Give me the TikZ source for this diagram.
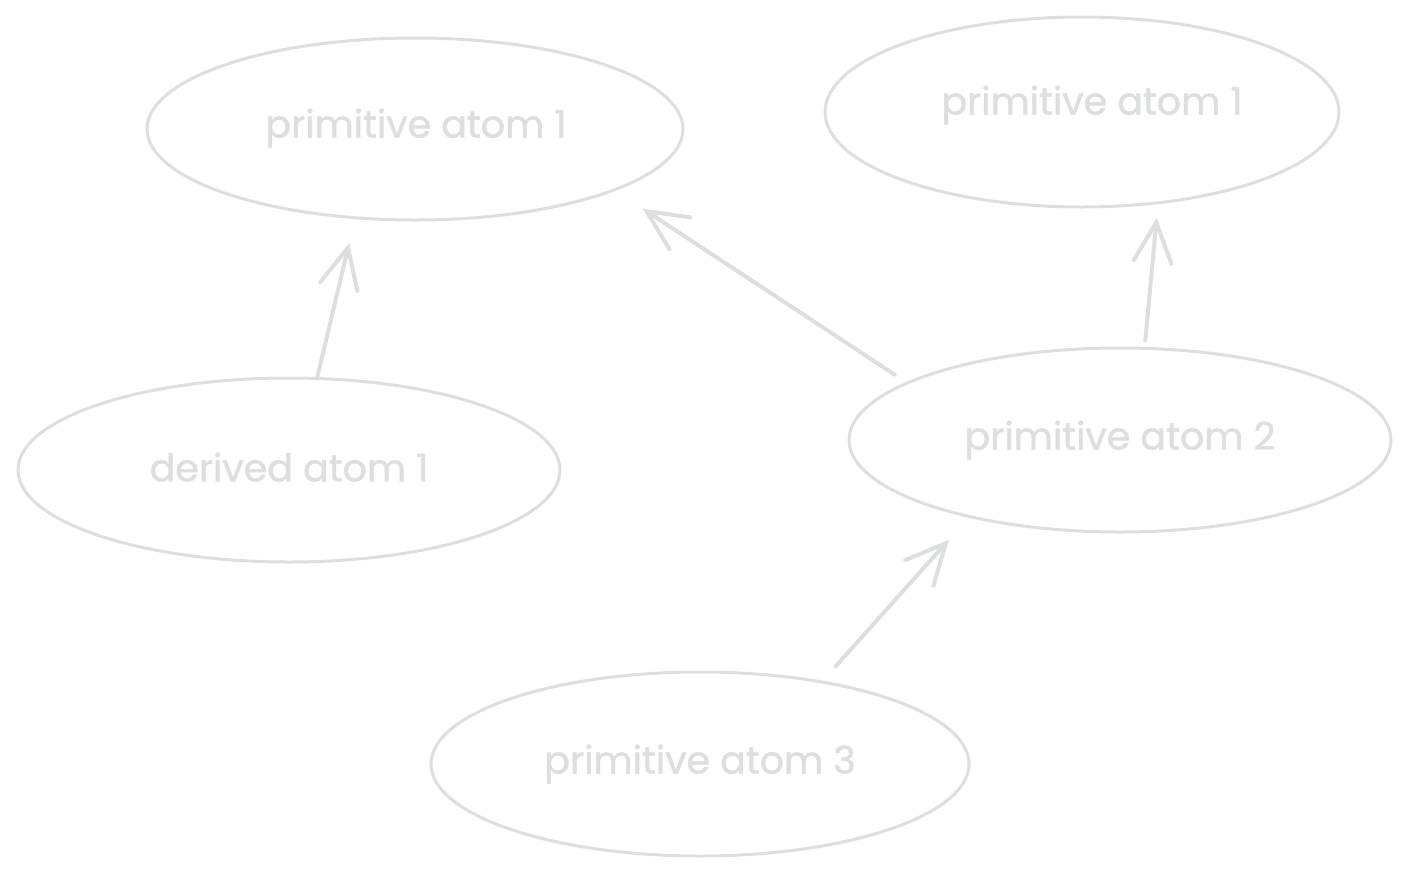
\documentclass[tikz,border=0pt]{standalone}
\usepackage{fontspec}
\setmainfont{Poppins}
\newfontfamily\skfont{Poppins}[FakeBold=1.3]
\usetikzlibrary{shapes.geometric,arrows.meta}
\definecolor{sk}{RGB}{220,223,222}
\tikzset{
  atom/.style={ellipse, draw=sk, line width=3pt, inner sep=0pt, outer sep=0pt},
  label/.style={text=sk, font=\skfont\fontsize{38}{44}\selectfont},
  link/.style={draw=sk, line width=4pt, line cap=round,
    -{Straight Barb[length=40pt,width=38pt,line cap=round]}}
}
\begin{document}
\begin{tikzpicture}[x=1pt,y=-1pt]
\useasboundingbox (0,0) rectangle (1409,876);
\node[atom, minimum width=536pt, minimum height=182pt] (p1) at (415,129) {};
\node[label] (t1) at (416,128) {primitive atom 1};
\node[atom, minimum width=514pt, minimum height=190pt] (q1) at (1082,112) {};
\node[label] (t2) at (1092,105) {primitive atom 1};
\node[atom, minimum width=542pt, minimum height=184pt] (d1) at (289,470) {};
\node[label] (t3) at (289,467) {derived atom 1};
\node[atom, minimum width=542pt, minimum height=184pt] (p2) at (1120,440) {};
\node[label] (t4) at (1120,440) {primitive atom 2};
\node[atom, minimum width=538pt, minimum height=184pt] (p3) at (700,764) {};
\node[label] (t5) at (700,764) {primitive atom 3};
\draw[link, shorten >=26pt] (d1.73) -- (p1.236);
\draw[link, shorten <=15pt, shorten >=34pt] (p2.165.5) -- (p1.343.5);
\draw[link, shorten <=8pt, shorten >=15pt] (p2.75.8) -- (q1.310.1);
\draw[link, shorten <=21pt, shorten >=31pt] (p3.34) -- (p2.207.3);
\end{tikzpicture}
\end{document}
